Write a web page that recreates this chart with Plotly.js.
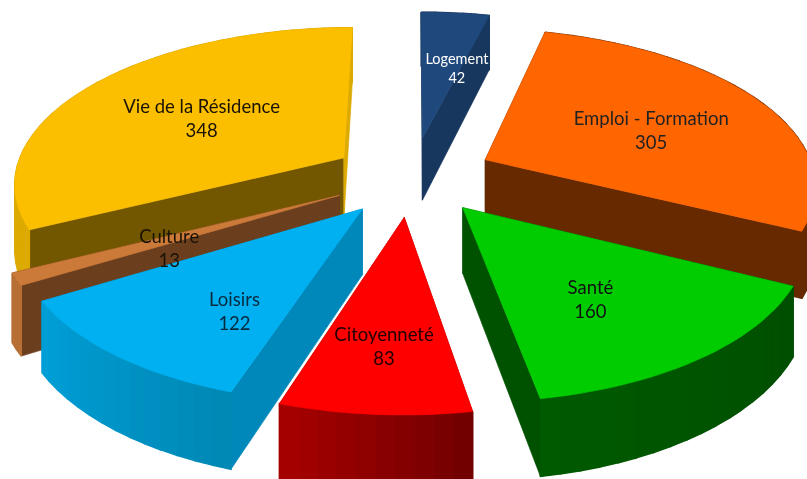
<!DOCTYPE html>
<html><head><meta charset="utf-8">
<script src="https://cdn.plot.ly/plotly-3.0.1.min.js"></script>
<style>html,body{margin:0;padding:0;background:#fff}#c{width:807px;height:479px;filter:blur(0.6px)}</style>
</head><body><div id="c"></div>
<script>
const categories = ["Logement","Emploi - Formation","Santé","Citoyenneté","Loisirs","Culture","Vie de la Résidence"];
const values = [42,305,160,83,122,13,348];
const topColors = ["#1f497d","#ff6600","#00cc00","#ff0000","#00b0f0","#cc7a3a","#fcbf00"];
const wallStartColors = ["#17375e","#662900","#005200","#8a0000","#0088bb","#6b3e1e","#725700"];
const wallEndColors = ["#17375e","#662900","#005200","#8a0000","#0088bb","#6b3e1e","#dcaa00"];
const outerStart = ["#17375e","#662900","#004e00","#700000","#0088b4","#b86f35","#dcaa00"];
const outerEnd = ["#17375e","#662900","#005a00","#a80000","#009fd8","#b86f35","#dcaa00"];
const labelColors = ["#ffffff","#222222","#111111","#220000","#062a40","#1a1205","#1a1205"];
const labelSizes = [14.5,18.5,18.5,18.5,18.5,18.5,18.5];
const labelRadius = [0.62,0.6,0.6,0.72,0.68,0.54,0.6];
const labelShiftX = [13,-2,-8,0,33,-2,13];
const labelShiftY = [13,9,8,-4,9,11,7];
const wedgeExplode = [0.24,0.255,0.24,0.24,0.24,0.24,0.24];
const wedgeShiftX = [3,0,4,0,3,0,0];
const wedgeShiftY = [-3,-1,0,2,2,0,0];
const drawOrder = [0,6,1,5,4,2,3];

const CX=410, CY=177, RX=330, Q=155, P=0.15, DEPTH=64;
function project(u,v,z,k){const w=1+P*v;return [CX+wedgeShiftX[k]+RX*u/w, CY+wedgeShiftY[k]-Q*v/w+z*DEPTH/w];}
const total=values.reduce((a,b)=>a+b,0);
const rad=d=>d*Math.PI/180;
let acc=0;
const wedges=values.map((val,i)=>{const a0=acc/total*360;acc+=val;const a1=acc/total*360;const m=(a0+a1)/2;
  return {i,a0,a1,m,ox:wedgeExplode[i]*Math.sin(rad(m)),oy:wedgeExplode[i]*Math.cos(rad(m))};});
function pt(w,ang,r,z){return project(w.ox+r*Math.sin(rad(ang)),w.oy+r*Math.cos(rad(ang)),z,w.i);}
function hex(c){return [1,3,5].map(k=>parseInt(c.substr(k,2),16));}
function mix(a,b,t){const A=hex(a),B=hex(b);return "rgb("+A.map((x,k)=>Math.round(x+(B[k]-x)*t)).join(",")+")";}
function poly(points,color,lw){return {type:"scatter",mode:"lines",x:points.map(p=>p[0]),y:points.map(p=>p[1]),fill:"toself",fillcolor:color,
  line:{color:color,width:lw||0.7},hoverinfo:"skip",showlegend:false};}
const traces=[];
drawOrder.forEach(k=>{const w=wedges[k];
  [[w.a0,wallStartColors[k]],[w.a1,wallEndColors[k]]].forEach(([a,c])=>traces.push(poly([pt(w,a,0,0),pt(w,a,1,0),pt(w,a,1,1),pt(w,a,0,1),pt(w,a,0,0)],c)));
  const n=Math.max(2,Math.ceil((w.a1-w.a0)/3));
  for(let s=0;s<n;s++){const b0=w.a0+(w.a1-w.a0)*s/n,b1=w.a0+(w.a1-w.a0)*(s+1)/n;
    traces.push(poly([pt(w,b0,1,0),pt(w,b1,1,0),pt(w,b1,1,1),pt(w,b0,1,1),pt(w,b0,1,0)],mix(outerStart[k],outerEnd[k],(s+.5)/n),1.5));}
  const f=[pt(w,w.a0,0,0)];
  const m=Math.max(2,Math.ceil((w.a1-w.a0)/2));
  for(let s=0;s<=m;s++)f.push(pt(w,w.a0+(w.a1-w.a0)*s/m,1,0));
  f.push(pt(w,w.a0,0,0));
  traces.push(poly(f,topColors[k]));
});
const lab=wedges.map(w=>{const p=pt(w,w.m,labelRadius[w.i],0);return [p[0]+labelShiftX[w.i],p[1]+labelShiftY[w.i]];});
traces.push({type:"scatter",mode:"text",x:lab.map(p=>p[0]),y:lab.map(p=>p[1]),
  text:categories.map((c,i)=>c+"<br>"+values[i]),textposition:"middle center",
  textfont:{family:"Lato, 'Open Sans', sans-serif",size:labelSizes,color:labelColors},hoverinfo:"skip",showlegend:false,cliponaxis:true});
Plotly.newPlot("c",traces,{width:807,height:479,margin:{l:0,r:0,t:0,b:0},paper_bgcolor:"#fff",plot_bgcolor:"#fff",showlegend:false,
  xaxis:{range:[0,807],visible:false,fixedrange:true},yaxis:{range:[479,0],visible:false,fixedrange:true}},{displayModeBar:false,staticPlot:true});
</script></body></html>
